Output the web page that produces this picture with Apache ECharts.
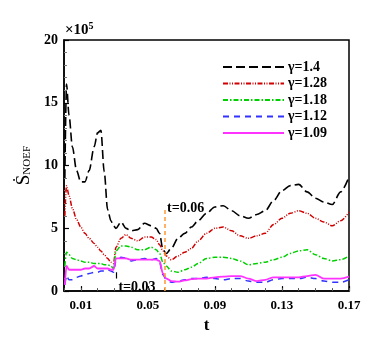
<!DOCTYPE html>
<html>
<head>
<meta charset="utf-8">
<script src="https://cdn.jsdelivr.net/npm/echarts@6/dist/echarts.min.js"></script>
<style>
    html, body {margin: 0; padding: 0; background: #fff;}
    #main {width: 382px; height: 339px;}
</style>
</head>
<body>
<div id="main"></div>
<script>
// 时间轴
var tList = [0.0005, 0.0015, 0.003, 0.005, 0.0075, 0.010, 0.0125, 0.015, 0.018, 0.020, 0.022, 0.024, 0.026, 0.028, 0.0295,
    0.031, 0.034, 0.037, 0.040, 0.044, 0.048, 0.052, 0.055, 0.057, 0.059, 0.061, 0.064, 0.068, 0.072, 0.076, 0.080,
    0.085, 0.090, 0.095, 0.100, 0.105, 0.110, 0.115, 0.120, 0.125, 0.130, 0.135, 0.140, 0.145, 0.150, 0.155, 0.160, 0.165, 0.170];

// 各 gamma 曲线 (x10^5)
var g140 = [9.0, 16.5, 14.0, 11.5, 9.6, 8.7, 8.7, 9.6, 11.5, 12.6, 12.8, 9.5, 6.5, 5.6, 5.2,
    5.0, 5.5, 5.0, 4.8, 4.9, 5.4, 5.2, 5.0, 4.6, 3.3, 3.0, 3.4, 4.2, 4.6, 5.1, 5.6,
    6.2, 6.7, 6.8, 6.4, 6.0, 5.8, 6.1, 6.4, 7.2, 8.0, 8.4, 8.5, 7.9, 7.4, 7.1, 6.9, 7.9, 9.1];
var g128 = [6.0, 8.4, 7.6, 6.6, 5.7, 5.1, 4.6, 4.2, 3.8, 3.5, 3.2, 2.9, 2.6, 2.3, 2.2,
    3.5, 4.2, 4.5, 4.2, 4.0, 4.3, 4.3, 4.1, 3.7, 3.2, 2.8, 2.5, 2.8, 3.1, 3.4, 4.0,
    4.6, 5.0, 5.1, 4.8, 4.4, 4.2, 4.4, 4.6, 5.3, 5.8, 6.2, 6.4, 6.2, 5.8, 5.5, 5.2, 5.6, 6.3];
var g118 = [2.0, 3.1, 2.9, 2.6, 2.5, 2.4, 2.3, 2.3, 2.2, 2.2, 2.2, 2.1, 2.1, 2.0, 1.8,
    3.2, 3.6, 3.6, 3.5, 3.3, 3.3, 3.5, 3.3, 3.0, 2.3, 2.0, 1.6, 1.5, 1.7, 1.9, 2.2,
    2.6, 2.7, 2.7, 2.6, 2.4, 2.1, 2.2, 2.3, 2.5, 2.7, 3.0, 3.2, 3.3, 2.9, 2.6, 2.4, 2.5, 2.8];
var g112 = [0.5, 1.2, 0.9, 0.9, 1.1, 1.2, 1.3, 1.4, 1.5, 1.5, 1.6, 1.6, 1.7, 1.6, 1.5,
    2.4, 2.7, 2.6, 2.4, 2.5, 2.6, 2.5, 2.6, 2.3, 1.3, 0.9, 0.7, 0.8, 0.9, 1.0, 1.0,
    1.1, 1.0, 0.9, 1.0, 1.0, 0.8, 0.7, 0.7, 0.9, 1.0, 1.0, 1.0, 1.1, 1.0, 0.8, 0.7, 0.7, 0.9];
var g109 = [0.5, 2.0, 1.7, 1.7, 1.7, 1.7, 1.8, 1.8, 2.0, 1.8, 1.8, 1.8, 1.8, 1.7, 1.7,
    2.6, 2.6, 2.6, 2.5, 2.5, 2.5, 2.5, 2.5, 2.4, 1.4, 1.0, 0.8, 0.75, 0.85, 0.95, 1.0,
    1.0, 1.1, 1.15, 1.2, 1.2, 1.0, 0.8, 0.9, 1.1, 1.1, 1.1, 1.1, 1.2, 1.3, 1.0, 1.0, 1.0, 1.15];

var names = ['γ=1.4', 'γ=1.28', 'γ=1.18', 'γ=1.12', 'γ=1.09'];
var xLabels = [0.01, 0.05, 0.09, 0.13, 0.17];
// 标记线 t=0.03, t=0.06
var markT = [0.031, 0.06];

var serif = '"Liberation Serif", "Times New Roman", serif';

function pairs(vals) {
    var out = [];
    for (var i = 0; i < tList.length; i++) {
        out.push([tList[i], vals[i]]);
    }
    return out;
}

function lineSeries(name, vals, color, dash, width) {
    return {
        name: name,
        type: 'line',
        data: pairs(vals),
        symbol: 'none',
        smooth: 0.3,
        smoothMonotone: 'x',
        lineStyle: {color: color, width: width, type: dash},
        itemStyle: {color: color},
        z: 3
    };
}

var option = {
    animation: false,
    grid: {left: 64, top: 40, right: 33, bottom: 39, show: true, borderColor: '#000', borderWidth: 1.5, backgroundColor: 'transparent'},
    legend: {
        orient: 'vertical',
        left: 217,
        top: 55,
        itemWidth: 61,
        itemHeight: 10,
        itemGap: 2.5,
        data: names,
        itemStyle: {opacity: 0},
        textStyle: {fontFamily: serif, fontWeight: 'bold', fontSize: 14, color: '#000', padding: [0, 0, 0, -1]}
    },
    xAxis: [{
        type: 'value',
        min: 0,
        max: 0.17,
        name: 't',
        nameLocation: 'middle',
        nameGap: 21,
        nameTextStyle: {fontFamily: serif, fontWeight: 'bold', fontSize: 17, color: '#000'},
        axisLine: {onZero: false, lineStyle: {color: '#000', width: 1.5}},
        axisTick: {inside: true, length: 5, customValues: xLabels, lineStyle: {color: '#000', width: 1.2}},
        axisLabel: {customValues: xLabels, margin: 8, fontFamily: serif, fontWeight: 'bold', fontSize: 13, color: '#000',
            formatter: function (v) { return v.toFixed(2); }},
        splitLine: {show: false}
    }, {
        type: 'value',
        min: 0,
        max: 0.17,
        interval: 0.01,
        position: 'bottom',
        axisLine: {show: false},
        axisTick: {inside: true, length: 3, lineStyle: {color: '#555', width: 1}},
        axisLabel: {show: false},
        splitLine: {show: false}
    }],
    yAxis: {
        type: 'value',
        min: 0,
        max: 20,
        interval: 5,
        name: '{s|Ṡ}{sub|NOEF}',
        nameLocation: 'middle',
        nameRotate: 90,
        nameGap: 23,
        nameTextStyle: {
            color: '#000',
            rich: {
                s: {fontFamily: serif, fontSize: 19, color: '#000'},
                sub: {fontFamily: serif, fontSize: 11, color: '#000', padding: [8, 0, 0, 0]}
            }
        },
        axisLine: {lineStyle: {color: '#000', width: 1.5}},
        axisTick: {inside: true, length: 5, lineStyle: {color: '#000', width: 1.2}},
        minorTick: {show: true, splitNumber: 5, length: 3, lineStyle: {color: '#777', width: 1}},
        axisLabel: {margin: 6, fontFamily: serif, fontWeight: 'bold', fontSize: 14, color: '#000'},
        splitLine: {show: false}
    },
    graphic: [{
        type: 'text',
        left: 65,
        top: 21,
        style: {
            text: '×10{sup|5}',
            fill: '#000',
            font: 'bold 15px ' + serif,
            rich: {sup: {fontFamily: serif, fontWeight: 'bold', fontSize: 10, padding: [0, 0, 8, 0]}}
        }
    }],
    series: [
        lineSeries(names[0], g140, '#000000', [9, 4], 1.6),
        lineSeries(names[1], g128, '#d00000', [5, 1.5, 1, 1.5, 1, 1.5], 1.5),
        lineSeries(names[2], g118, '#00d000', [5, 2, 1.5, 2], 1.5),
        lineSeries(names[3], g112, '#3333ff', [6, 5], 1.5),
        lineSeries(names[4], g109, '#ff33ff', 'solid', 1.8),
        {
            type: 'line',
            data: [],
            silent: true,
            markLine: {
                symbol: 'none',
                animation: false,
                data: [
                    [{coord: [markT[1], 0], lineStyle: {color: '#ff9933', width: 1.5, type: [4, 3]},
                        label: {show: true, position: 'end', formatter: 't=0.06', offset: [21, 12],
                            fontFamily: serif, fontWeight: 'bold', fontSize: 14, color: '#000'}},
                        {coord: [markT[1], 6.6]}],
                    [{coord: [markT[0], 1.0], lineStyle: {color: '#000', width: 1.2, type: 'solid'},
                        label: {show: true, position: 'end', formatter: 't=0.03', offset: [21, 27],
                            fontFamily: serif, fontWeight: 'bold', fontSize: 14, color: '#000'}},
                        {coord: [markT[0], 1.5]}]
                ]
            }
        }
    ]
};

var chart = echarts.init(document.getElementById('main'));
chart.setOption(option);
</script>
</body>
</html>
